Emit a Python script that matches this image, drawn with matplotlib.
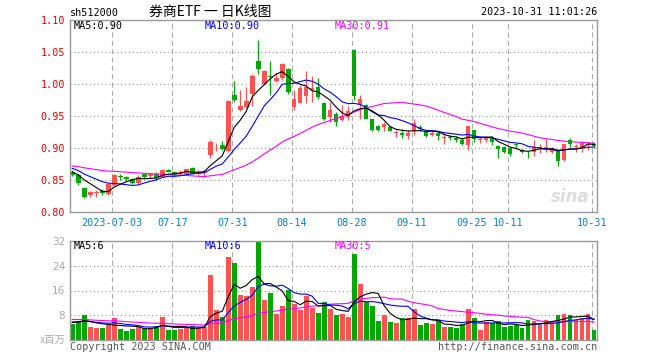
import numpy as np
import matplotlib.pyplot as plt

# sh512000 daily candles 2023-06-20 .. 2023-10-31
opens = [0.863, 0.858, 0.837, 0.826, 0.830, 0.833, 0.828, 0.842, 0.856, 0.855,
         0.851, 0.845, 0.859, 0.856, 0.859, 0.855, 0.866, 0.862, 0.860, 0.859,
         0.869, 0.860, 0.861, 0.889, 0.904, 0.905, 0.896, 0.983, 0.960, 0.964,
         0.985, 1.036, 1.000, 1.012, 1.005, 1.010, 1.023, 0.964, 0.971, 0.981,
         0.990, 0.996, 0.971, 0.949, 0.953, 0.944, 0.949, 1.053, 0.967, 0.967,
         0.945, 0.934, 0.933, 0.933, 0.924, 0.923, 0.918, 0.927, 0.933, 0.926,
         0.920, 0.923, 0.915, 0.917, 0.915, 0.912, 0.905, 0.928, 0.912, 0.913,
         0.915, 0.903, 0.901, 0.900, 0.906, 0.897, 0.894, 0.893, 0.900, 0.898,
         0.894, 0.896, 0.881, 0.913, 0.902, 0.901, 0.904, 0.906]
highs = [0.865, 0.859, 0.839, 0.833, 0.834, 0.836, 0.845, 0.860, 0.859, 0.857,
         0.853, 0.858, 0.860, 0.860, 0.863, 0.867, 0.867, 0.864, 0.865, 0.867,
         0.871, 0.865, 0.866, 0.912, 0.908, 0.911, 0.975, 1.005, 0.990, 0.996,
         1.016, 1.068, 1.022, 1.036, 1.017, 1.033, 1.025, 0.991, 0.998, 1.020,
         1.012, 1.010, 0.972, 0.972, 0.957, 0.967, 0.966, 1.054, 0.983, 0.969,
         0.946, 0.936, 0.941, 0.934, 0.928, 0.929, 0.928, 0.945, 0.936, 0.928,
         0.926, 0.926, 0.923, 0.920, 0.919, 0.917, 0.934, 0.928, 0.917, 0.918,
         0.917, 0.905, 0.903, 0.902, 0.907, 0.898, 0.896, 0.912, 0.907, 0.914,
         0.902, 0.897, 0.906, 0.916, 0.906, 0.911, 0.910, 0.909]
lows = [0.856, 0.842, 0.822, 0.824, 0.823, 0.827, 0.827, 0.841, 0.850, 0.849,
        0.844, 0.844, 0.853, 0.853, 0.850, 0.854, 0.862, 0.854, 0.858, 0.858,
        0.859, 0.858, 0.855, 0.884, 0.896, 0.897, 0.894, 0.972, 0.958, 0.962,
        0.966, 1.016, 0.998, 0.983, 1.003, 1.007, 0.985, 0.959, 0.970, 0.970,
        0.972, 0.976, 0.944, 0.941, 0.935, 0.942, 0.944, 0.975, 0.945, 0.945,
        0.927, 0.927, 0.926, 0.926, 0.917, 0.915, 0.914, 0.920, 0.927, 0.917,
        0.918, 0.913, 0.906, 0.912, 0.909, 0.905, 0.897, 0.910, 0.908, 0.910,
        0.905, 0.885, 0.892, 0.888, 0.900, 0.892, 0.885, 0.887, 0.892, 0.893,
        0.892, 0.872, 0.879, 0.902, 0.894, 0.894, 0.897, 0.900]
closes = [0.858, 0.845, 0.824, 0.832, 0.832, 0.829, 0.843, 0.858, 0.855, 0.851,
          0.845, 0.854, 0.854, 0.859, 0.853, 0.866, 0.863, 0.858, 0.863, 0.867,
          0.860, 0.863, 0.862, 0.910, 0.905, 0.898, 0.973, 0.975, 0.966, 0.973,
          1.012, 1.023, 1.021, 1.011, 1.010, 1.031, 0.987, 0.977, 0.993, 0.996,
          0.994, 0.979, 0.945, 0.960, 0.941, 0.950, 0.958, 0.981, 0.977, 0.946,
          0.928, 0.928, 0.938, 0.927, 0.925, 0.920, 0.923, 0.939, 0.929, 0.918,
          0.923, 0.919, 0.917, 0.915, 0.913, 0.906, 0.934, 0.914, 0.914, 0.915,
          0.910, 0.898, 0.893, 0.891, 0.904, 0.893, 0.893, 0.902, 0.902, 0.901,
          0.898, 0.879, 0.906, 0.907, 0.903, 0.908, 0.907, 0.903]
# volume, millions
vols = [5.2, 6.2, 8.1, 4.3, 3.9, 3.9, 5.0, 7.0, 3.7, 3.0,
        3.7, 4.3, 3.6, 3.7, 4.6, 7.4, 3.2, 3.2, 3.6, 4.0,
        4.4, 4.0, 4.2, 21.0, 9.7, 7.5, 26.9, 25.0, 14.5, 14.2,
        17.1, 32.0, 12.9, 15.2, 8.4, 11.0, 16.2, 11.6, 9.8, 14.2,
        10.5, 8.7, 12.4, 10.0, 8.1, 8.4, 7.4, 27.8, 18.2, 12.2,
        11.0, 6.1, 8.1, 5.8, 5.5, 7.1, 7.1, 10.0, 4.8, 5.5,
        5.2, 6.1, 4.2, 4.2, 3.9, 5.2, 10.0, 7.1, 3.2, 5.8,
        5.5, 6.1, 4.2, 4.5, 4.8, 3.9, 6.5, 6.1, 4.8, 6.5,
        6.1, 8.1, 8.4, 8.1, 6.5, 7.1, 8.4, 3.2]
# days before the window, only needed so the moving averages start right
pre_close = [0.880, 0.878, 0.875, 0.872, 0.874, 0.870, 0.868, 0.871, 0.873, 0.870,
             0.867, 0.869, 0.872, 0.875, 0.878, 0.880, 0.877, 0.874, 0.876, 0.879,
             0.881, 0.878, 0.874, 0.870, 0.868, 0.866, 0.864, 0.862, 0.862]
pre_vol = [7.8, 7.2, 8.4, 7.0, 6.9, 7.6, 7.1, 6.8, 8.2, 7.3,
           6.9, 7.0, 7.4, 6.8, 6.3, 6.5, 7.2, 6.6, 5.9, 6.2,
           6.4, 5.8, 5.6, 5.9, 6.3, 5.7, 5.5, 6.0, 6.1]

tick_idx = [7, 17, 27, 37, 47, 57, 67, 73, 87]
tick_lab = ["2023-07-03", "07-17", "07-31", "08-14", "08-28", "09-11", "09-25", "10-11", "10-31"]
ma_txt = ["MA5:0.90", "MA10:0.90", "MA30:0.91"]
vma_txt = ["MA5:6", "MA10:6", "MA30:5"]

RED = "#ff5252"
GREEN = "#00a800"
MONO = "DejaVu Sans Mono"
CJK = ["Noto Sans CJK SC", "DejaVu Sans"]


def ma(vals, pre, n):
    a = np.array(pre + vals)
    out = np.convolve(a, np.ones(n) / n, mode="valid")
    return out[-len(vals):]


o = np.array(opens)
h = np.array(highs)
l = np.array(lows)
c = np.array(closes)
v = np.array(vols)
x = np.arange(len(c))
col = np.where(c >= o, RED, GREEN)

W, H = 660, 360
fig = plt.figure(figsize=(6.6, 3.6), dpi=100)
ax = fig.add_axes([70 / W, 1 - 212 / H, 527 / W, 192 / H])
axv = fig.add_axes([70 / W, 1 - 340 / H, 527 / W, 99 / H])

grid_x = np.array(tick_idx) - 0.33
for a in (ax, axv):
    a.set_xlim(-0.38, 87.5)
    for s in a.spines.values():
        s.set_color("#999999")
        s.set_linewidth(1.0)
    for gx in grid_x:
        a.axvline(gx, color="#aaaaaa", lw=0.8, ls=(0, (4.5, 3)), zorder=0)
    a.tick_params(length=0)

# price panel
ax.set_ylim(0.80, 1.10)
for gy in [0.85, 0.90, 0.95, 1.00, 1.05]:
    ax.axhline(gy, color="#999999", lw=0.8, ls=(0, (1, 2.5)), zorder=0)
ax.vlines(x, l, h, colors=col, lw=0.9, zorder=2)
ax.bar(x, np.maximum(np.abs(c - o), 0.0012), bottom=np.minimum(o, c),
       width=0.78, color=col, lw=0, zorder=2)
ax.plot(x, ma(closes, pre_close, 30), color="#ff00ff", lw=0.8, zorder=3)
ax.plot(x, ma(closes, pre_close, 10), color="#0000ff", lw=0.8, zorder=3)
ax.plot(x, ma(closes, pre_close, 5), color="black", lw=0.8, zorder=3)
yt = [0.80, 0.85, 0.90, 0.95, 1.00, 1.05, 1.10]
ax.set_yticks(yt, ["%.2f" % t for t in yt], color="#ee0000", fontsize=7.3, family=MONO)
ax.tick_params(axis="y", pad=3.5)
ax.set_xticks(grid_x, tick_lab, color="#0a7fcc", fontsize=7.3, family=MONO)
ax.tick_params(axis="x", pad=4)
ax.text(0.985, 0.03, "sina", transform=ax.transAxes, ha="right", va="bottom",
        fontsize=12, fontweight="bold", style="italic", color="#dddddd", zorder=1)

# volume panel
axv.set_ylim(0, 32)
for gy in [8, 16, 24]:
    axv.axhline(gy, color="#999999", lw=0.8, ls=(0, (1, 2.5)), zorder=0)
axv.bar(x, v, width=0.82, color=col, lw=0, zorder=2)
axv.plot(x, ma(vols, pre_vol, 30), color="#ff00ff", lw=0.8, zorder=3)
axv.plot(x, ma(vols, pre_vol, 10), color="#0000ff", lw=0.8, zorder=3)
axv.plot(x, ma(vols, pre_vol, 5), color="black", lw=0.8, zorder=3)
axv.set_yticks([8, 16, 24, 32], ["8", "16", "24", "32"], color="#aaaaaa", fontsize=7.5)
axv.tick_params(axis="y", pad=3.5)
axv.set_xticks([])


def ftext(px, py, s, **kw):
    fig.text(px / W, 1 - py / H, s, va="center", **kw)


ftext(210, 12, "券商ETF 一 日K线图", ha="center", fontsize=10, family=CJK)
ftext(70, 13, "sh512000", ha="left", fontsize=7.3, family=MONO)
ftext(597, 12, "2023-10-31 11:01:26", ha="right", fontsize=7.3, family=MONO)
for px, s, cc in zip([74, 205, 335], ma_txt, ["black", "#0000ff", "#ff00ff"]):
    ftext(px, 26, s, ha="left", fontsize=7.3, family=MONO, color=cc)
for px, s, cc in zip([74, 205, 335], vma_txt, ["black", "#0000ff", "#ff00ff"]):
    ftext(px, 246, s, ha="left", fontsize=7.3, family=MONO, color=cc)
ftext(66, 340, "x百万", ha="right", fontsize=7.5, family=CJK, color="#aaaaaa")
ftext(70, 347, "Copyright 2023 SINA.COM", ha="left", fontsize=7.3, family=MONO, color="#555555")
ftext(597, 347, "http://finance.sina.com.cn", ha="right", fontsize=7.3, family=MONO, color="#555555")

fig.savefig("out.png", dpi=100)
